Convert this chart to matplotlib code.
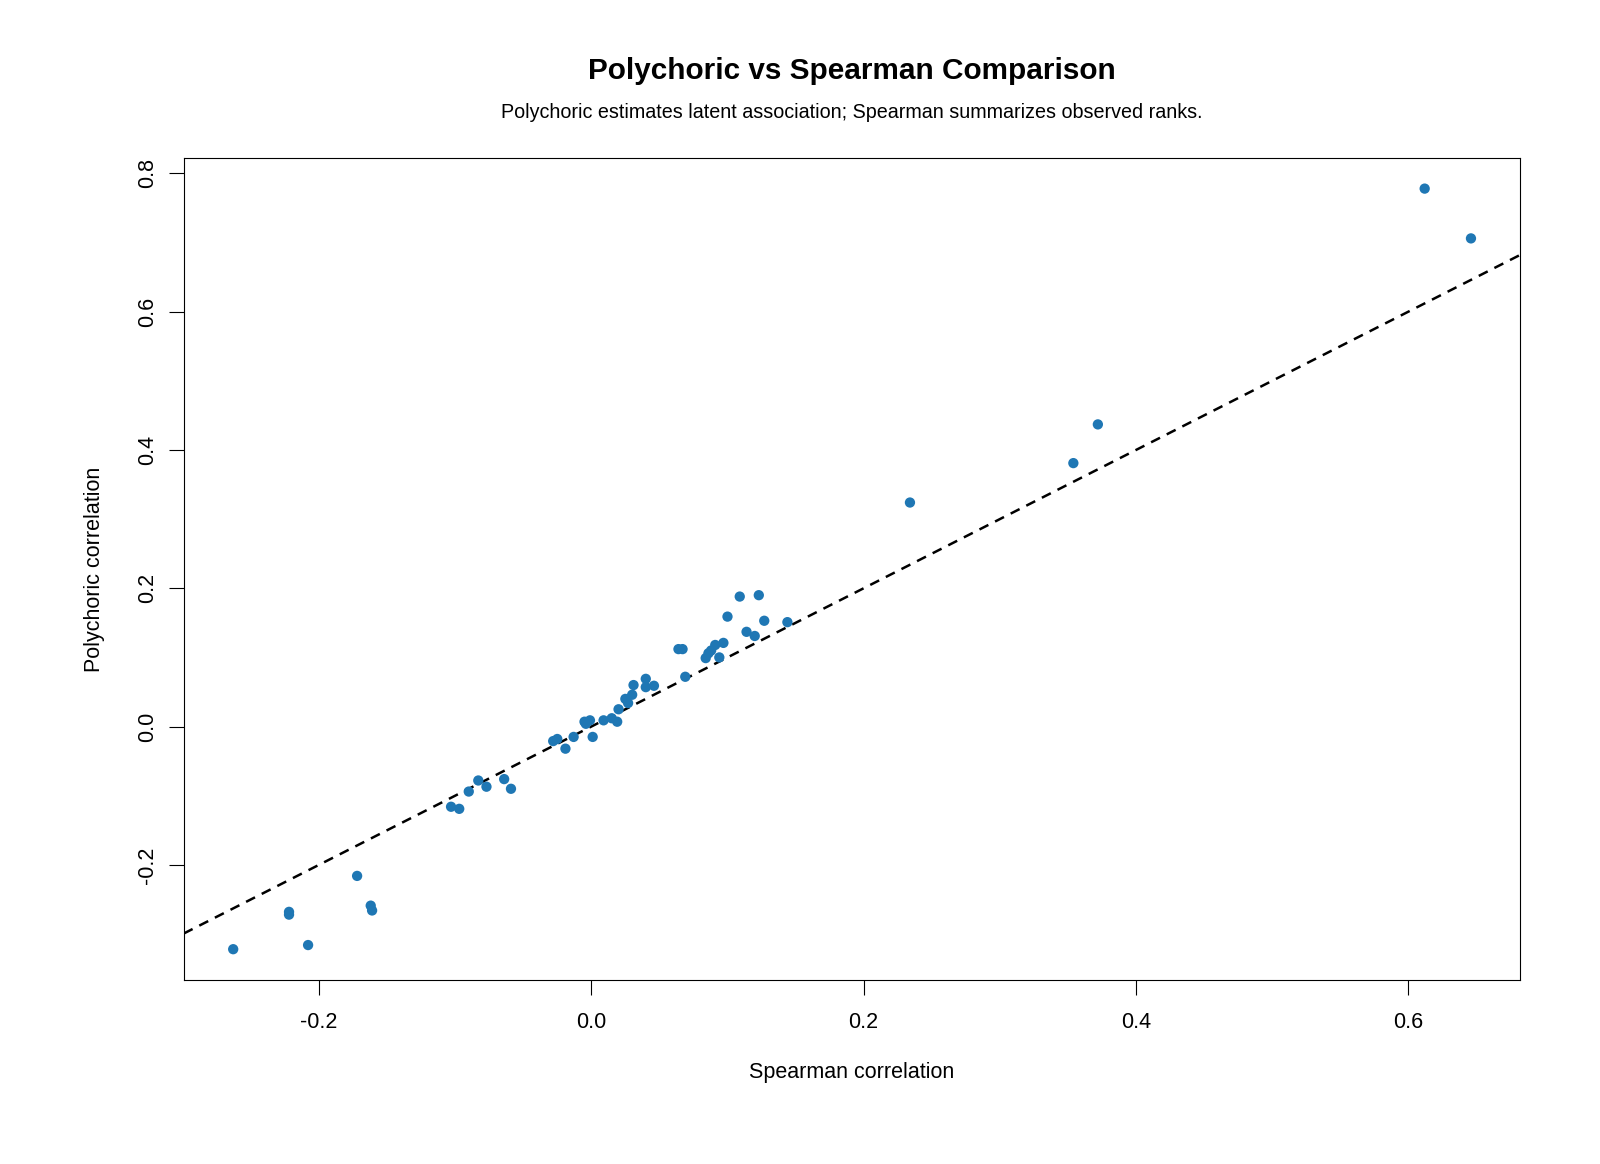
import numpy as np
import matplotlib
matplotlib.use("Agg")
import matplotlib.pyplot as plt

plt.rcParams['font.family'] = ['Liberation Sans', 'DejaVu Sans']

# Spearman vs polychoric correlations for item pairs
spearman = [
    0.612, 0.646, 0.372, 0.354, 0.234,
    0.109, 0.123, 0.100, 0.127, 0.144, 0.114, 0.120,
    0.064, 0.067, 0.097, 0.091, 0.088, 0.086, 0.084, 0.094,
    0.069, 0.031, 0.040, 0.046, 0.040, 0.025, 0.030, 0.027,
    0.020, 0.015, 0.019, 0.009, -0.005, -0.001, -0.004,
    0.001, -0.013, -0.028, -0.025, -0.019,
    -0.064, -0.059, -0.083, -0.077, -0.090, -0.103, -0.097,
    -0.172, -0.162, -0.161, -0.222, -0.222, -0.208, -0.263,
]
polychoric = [
    0.778, 0.706, 0.437, 0.381, 0.324,
    0.188, 0.190, 0.159, 0.153, 0.151, 0.137, 0.131,
    0.112, 0.112, 0.121, 0.118, 0.110, 0.106, 0.099, 0.100,
    0.072, 0.060, 0.069, 0.059, 0.057, 0.040, 0.046, 0.034,
    0.025, 0.012, 0.007, 0.009, 0.007, 0.009, 0.004,
    -0.015, -0.015, -0.021, -0.018, -0.032,
    -0.076, -0.090, -0.078, -0.087, -0.094, -0.116, -0.119,
    -0.216, -0.259, -0.266, -0.268, -0.272, -0.316, -0.322,
]

x_ticks = [-0.2, 0.0, 0.2, 0.4, 0.6]
y_ticks = [-0.2, 0.0, 0.2, 0.4, 0.6, 0.8]


def r_limits(v):
    # R-style 4% padding around the data range
    lo, hi = min(v), max(v)
    pad = 0.04 * (hi - lo)
    return lo - pad, hi + pad


fig = plt.figure(figsize=(16, 11.64), dpi=100)
ax = fig.add_axes([0.1148, 0.1584, 0.8355, 0.7057])

ax.axline((0, 0), slope=1, color='black', lw=1.8, linestyle=(0, (4, 3)), zorder=2)
ax.scatter(spearman, polychoric, s=55, color='#1f77b4', edgecolors='none', zorder=3)

ax.set_xlim(*r_limits(spearman))
ax.set_ylim(*r_limits(polychoric))
ax.set_xticks(x_ticks)
ax.set_yticks(y_ticks)
ax.set_xticklabels([f"{t:.1f}" for t in x_ticks])
ax.set_yticklabels([f"{t:.1f}" for t in y_ticks], rotation=90, va='center')

ax.tick_params(direction='out', length=11, width=0.8, labelsize=15.5, pad=12)
ax.tick_params(axis='y', pad=7.5)
for s in ax.spines.values():
    s.set_linewidth(0.8)

ax.set_xlabel("Spearman correlation", fontsize=15.5, labelpad=21)
ax.set_ylabel("Polychoric correlation", fontsize=15.5, labelpad=23)

fig.text(0.5325, 1 - 71 / 1164, "Polychoric vs Spearman Comparison",
         ha='center', va='center', fontsize=21.4, fontweight='bold')
fig.text(0.5325, 1 - 113 / 1164,
         "Polychoric estimates latent association; Spearman summarizes observed ranks.",
         ha='center', va='center', fontsize=14.2)

fig.savefig("out.png", dpi=100)
